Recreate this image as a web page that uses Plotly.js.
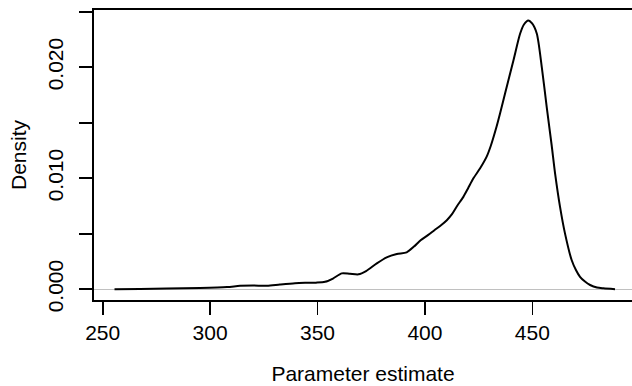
<!DOCTYPE html>
<html>
<head>
<meta charset="utf-8">
<script src="https://cdn.plot.ly/plotly-3.0.1.min.js"></script>
<style>
  html, body { margin: 0; padding: 0; background: #ffffff; }
  #chart { width: 632px; height: 386px; }
</style>
</head>
<body>
<div id="chart"></div>
<script>
// Kernel density estimate (x = parameter estimate, y = density)
var estimate = [255.5, 267.4, 279.9, 295.3, 307.9, 313.9, 320.0, 326.5, 332.5, 339.5,
  344.2, 349.3, 353.5, 357.2, 361.3, 365.1, 369.1, 372.6, 377.6, 382.2,
  386.9, 391.5, 394.9, 398.0, 401.4, 404.4, 407.5, 410.2, 412.6, 414.9,
  417.9, 420.1, 422.5, 425.7, 428.8, 430.6, 433.4, 435.0, 437.3, 441.2,
  444.3, 446.1, 448.1, 449.9, 452.1, 454.4, 456.7, 459.0, 460.6, 462.9,
  465.2, 468.3, 470.3, 472.2, 474.5, 476.9, 480.1, 483.1, 488.5];
var density = [0.000000, 0.000027, 0.000072, 0.000117, 0.000198, 0.000306, 0.000333, 0.000306, 0.000423, 0.000540,
  0.000576, 0.000594, 0.000665, 0.000962, 0.001430, 0.001390, 0.001340, 0.001640, 0.002330, 0.002870,
  0.003170, 0.003320, 0.003840, 0.004420, 0.004870, 0.005320, 0.005770, 0.006220, 0.006760, 0.007480,
  0.008320, 0.009100, 0.009970, 0.010900, 0.011970, 0.012880, 0.014680, 0.015850, 0.017640, 0.020610,
  0.023010, 0.023850, 0.024210, 0.023940, 0.023010, 0.020010, 0.016410, 0.012970, 0.010420, 0.007420,
  0.005030, 0.002630, 0.001730, 0.001120, 0.000690, 0.000380, 0.000150, 0.000080, 0.000000];

var xTicks = [250, 300, 350, 400, 450];
var xTickLabels = ["250", "300", "350", "400", "450"];
var yTicks = [0, 0.005, 0.010, 0.015, 0.020, 0.025];
var yTickLabels = ["0.000", "", "0.010", "", "0.020", ""];

var FONT = "Liberation Sans, Arial, Helvetica, sans-serif";
var FS = 21;

var trace = {
  x: estimate,
  y: density,
  type: "scatter",
  mode: "lines",
  line: { color: "#000000", width: 2, shape: "spline", smoothing: 0.7 },
  hoverinfo: "x+y",
  showlegend: false
};

var layout = {
  width: 632,
  height: 386,
  margin: { l: 94, r: 0, t: 10, b: 86, pad: 0 },
  paper_bgcolor: "#ffffff",
  plot_bgcolor: "#ffffff",
  font: { family: FONT, size: FS, color: "#000000" },
  showlegend: false,
  xaxis: {
    range: [245.95, 496.4],
    tickmode: "array",
    tickvals: xTicks,
    ticktext: xTickLabels,
    ticks: "outside",
    ticklen: 13,
    tickwidth: 1.6,
    tickcolor: "#000000",
    ticklabelstandoff: 0,
    showline: true,
    linecolor: "#000000",
    linewidth: 1.6,
    mirror: true,
    showgrid: false,
    zeroline: false,
    automargin: false,
    tickfont: { family: FONT, size: FS, color: "#000000" },
    title: { text: "Parameter estimate", font: { family: FONT, size: FS, color: "#000000" }, standoff: 23 }
  },
  yaxis: {
    range: [-0.000971, 0.025154],
    tickmode: "array",
    tickvals: yTicks,
    ticktext: yTickLabels,
    tickangle: -90,
    ticks: "outside",
    ticklen: 13,
    tickwidth: 1.6,
    tickcolor: "#000000",
    ticklabelstandoff: 8,
    showline: true,
    linecolor: "#000000",
    linewidth: 1.6,
    mirror: false,
    showgrid: false,
    zeroline: true,
    zerolinecolor: "#c0c0c0",
    zerolinewidth: 1,
    automargin: false,
    tickfont: { family: FONT, size: FS, color: "#000000" },
    title: { text: "Density", font: { family: FONT, size: FS, color: "#000000" }, standoff: 11 }
  }
};

Plotly.newPlot("chart", [trace], layout, { displayModeBar: false, staticPlot: true });
</script>
</body>
</html>
